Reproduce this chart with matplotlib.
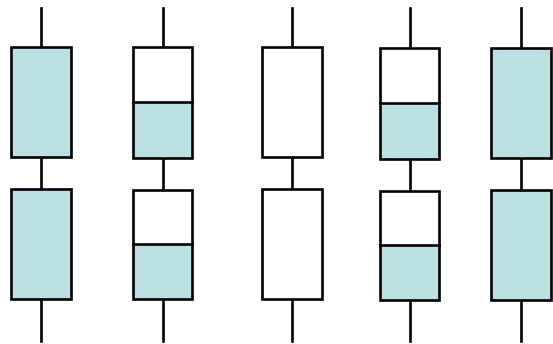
import matplotlib.pyplot as plt
from matplotlib.patches import Rectangle

# filled share of each box (top box, bottom box) per column
fill_top = [1.0, 0.5, 0.0, 0.5, 1.0]
fill_bottom = [1.0, 0.5, 0.0, 0.5, 1.0]

# layout in pixel units
centers = [40.5, 162.5, 292, 409.5, 521]
widths = [60, 59, 60, 59, 60]
offsets = [0, 0.5, 0, 1.5, 1]
top_box = (46.5, 157)
bottom_box = (189, 298.5)
line_ends = (7.5, 341)

fill_color = '#bbdfe2'
lw = 1.9

fig = plt.figure(figsize=(5.53, 3.44), dpi=100)
ax = fig.add_axes([0, 0, 1, 1])
ax.set_xlim(0, 553)
ax.set_ylim(344, 0)
ax.axis('off')

for cx, w, dy, ft, fb in zip(centers, widths, offsets, fill_top, fill_bottom):
    x0 = cx - w / 2
    # vertical stem pieces
    ax.plot([cx, cx], [line_ends[0], top_box[0] + dy], color='black', lw=lw, zorder=1)
    ax.plot([cx, cx], [top_box[1] + dy, bottom_box[0] + dy], color='black', lw=lw, zorder=1)
    ax.plot([cx, cx], [bottom_box[1] + dy, line_ends[1]], color='black', lw=lw, zorder=1)
    for (y0, y1), frac in ((top_box, ft), (bottom_box, fb)):
        y0 += dy
        y1 += dy
        h = y1 - y0
        ax.add_patch(Rectangle((x0, y0), w, h, facecolor='white', edgecolor='none', zorder=2))
        if frac > 0:
            ax.add_patch(Rectangle((x0, y1 - h * frac), w, h * frac,
                                   facecolor=fill_color, edgecolor='none', zorder=3))
            if frac < 1:
                ax.plot([x0, x0 + w], [y1 - h * frac] * 2, color='black', lw=lw, zorder=4)
        ax.add_patch(Rectangle((x0, y0), w, h, facecolor='none', edgecolor='black',
                               lw=lw, zorder=5))

fig.savefig('out.png', dpi=100)
